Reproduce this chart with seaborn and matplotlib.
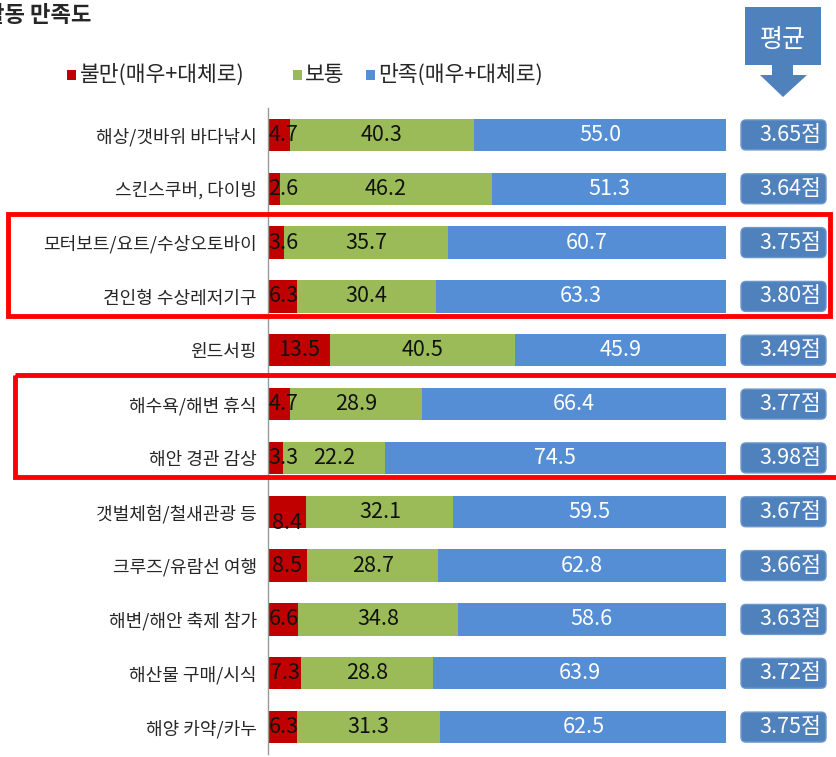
import matplotlib
matplotlib.use('Agg')
import matplotlib.pyplot as plt
import seaborn as sns
import numpy as np
import pandas as pd
from matplotlib.patches import Rectangle, FancyBboxPatch, Polygon
from matplotlib.transforms import blended_transform_factory, IdentityTransform

# data
categories = ["해상/갯바위 바다낚시", "스킨스쿠버, 다이빙", "모터보트/요트/수상오토바이",
              "견인형 수상레저기구", "윈드서핑", "해수욕/해변 휴식", "해안 경관 감상",
              "갯벌체험/철새관광 등", "크루즈/유람선 여행", "해변/해안 축제 참가",
              "해산물 구매/시식", "해양 카약/카누"]
dissat = [4.7, 2.6, 3.6, 6.3, 13.5, 4.7, 3.3, 8.4, 8.5, 6.6, 7.3, 6.3]
neutral = [40.3, 46.2, 35.7, 30.4, 40.5, 28.9, 22.2, 32.1, 28.7, 34.8, 28.8, 31.3]
satisf = [55.0, 51.3, 60.7, 63.3, 45.9, 66.4, 74.5, 59.5, 62.8, 58.6, 63.9, 62.5]
averages = ["3.65", "3.64", "3.75", "3.80", "3.49", "3.77", "3.98",
            "3.67", "3.66", "3.63", "3.72", "3.75"]
legend_labels = ["불만(매우+대체로)", "보통", "만족(매우+대체로)"]

RED = "#C00000"
GREEN = "#9BBB59"
BLUE = "#558ED5"
BOX = "#4F81BD"

sns.set_style("white")
plt.rcParams['font.family'] = ['Noto Sans CJK KR', 'DejaVu Sans']

W, H = 837, 757
fig = plt.figure(figsize=(W / 100, H / 100), dpi=100)
ax = fig.add_axes([268 / W, 1 - 754 / H, 458 / W, (754 - 108) / H])

df = pd.DataFrame({"cat": categories, "d": dissat, "n": neutral, "s": satisf})
df["dn"] = df["d"] + df["n"]
df["tot"] = df["dn"] + df["s"]

# stacked bars drawn as overlapping cumulative bars
for col, c in [("tot", BLUE), ("dn", GREEN), ("d", RED)]:
    sns.barplot(data=df, x=col, y="cat", color=c, saturation=1, width=0.6,
                orient="h", errorbar=None, linewidth=0, ax=ax)

ax.set_xlim(0, 100)
ax.set_ylim(len(categories) - 0.5, -0.5)
ax.set_xlabel("")
ax.set_ylabel("")
ax.set_xticks([])
ax.tick_params(axis="y", which="major", length=0, labelsize=13, pad=8)
ax.set_yticks(np.arange(-0.5, len(categories), 1), minor=True)
ax.tick_params(axis="y", which="minor", length=5, color="#999999", width=1)
for s in ["top", "right", "bottom"]:
    ax.spines[s].set_visible(False)
ax.spines["left"].set_color("#999999")
ax.spines["left"].set_linewidth(1)

# value labels
nudge = {7: 0.2}
for i in range(len(categories)):
    d, n, s = dissat[i], neutral[i], satisf[i]
    dy = nudge.get(i, 0)
    ax.text(max(d / 2, 3.4), i + dy, f"{d:.1f}", ha="center", va="center",
            fontsize=15.5, color="#111111")
    ax.text(d + n / 2, i, f"{n:.1f}", ha="center", va="center",
            fontsize=15.5, color="#111111")
    ax.text(d + n + s / 2, i, f"{s:.1f}", ha="center", va="center",
            fontsize=15.5, color="white")

# average boxes on the right
fig.canvas.draw()
for i, a in enumerate(averages):
    yd = ax.transData.transform((0, i))[1]
    box = FancyBboxPatch((741, yd - 15), 85, 30, boxstyle="round,pad=0,rounding_size=5",
                         transform=IdentityTransform(), fc=BOX, ec="#6E98CC", lw=1)
    fig.add_artist(box)
    fig.add_artist(plt.Text(821, yd, a + "점", ha="right", va="center", fontsize=15.5,
                            color="white", transform=IdentityTransform()))

# highlight frames
tr = blended_transform_factory(fig.transFigure, ax.transData)
fig.add_artist(Rectangle((8 / W, 1.46), (830 - 8) / W, 3.37 - 1.46, transform=tr,
                         fill=False, ec="#FF0000", lw=3.5, clip_on=False))
fig.add_artist(Rectangle((15 / W, 4.46), (860 - 15) / W, 6.35 - 4.46, transform=tr,
                         fill=False, ec="#FF0000", lw=3.5, clip_on=False))

# "평균" arrow
pts = [(745, 7), (821, 7), (821, 65), (793, 65), (793, 75), (807, 75), (783, 97),
       (760, 75), (772, 75), (772, 65), (745, 65)]
fig.add_artist(Polygon([(x / W, 1 - y / H) for x, y in pts], closed=True,
                       transform=fig.transFigure, fc=BOX, ec="none"))
fig.text(783 / W, 1 - 40 / H, "평균", ha="center", va="center", fontsize=18, color="white")

# legend
for (sx, tx), lab, c in zip([(67, 80), (293, 305), (366, 378)], legend_labels, [RED, GREEN, BLUE]):
    fig.add_artist(Rectangle((sx / W, 1 - 80 / H), 9 / W, 10 / H, transform=fig.transFigure,
                             fc=c, ec="none"))
    fig.text(tx / W, 1 - 75 / H, lab, ha="left", va="center", fontsize=15.5)

# title (cut at the left edge, as in the source image)
fig.text(92 / W, 1 - 16 / H, "활동 만족도", ha="right", va="center", fontsize=16,
         fontweight="bold")

fig.savefig("out.png", dpi=100)
